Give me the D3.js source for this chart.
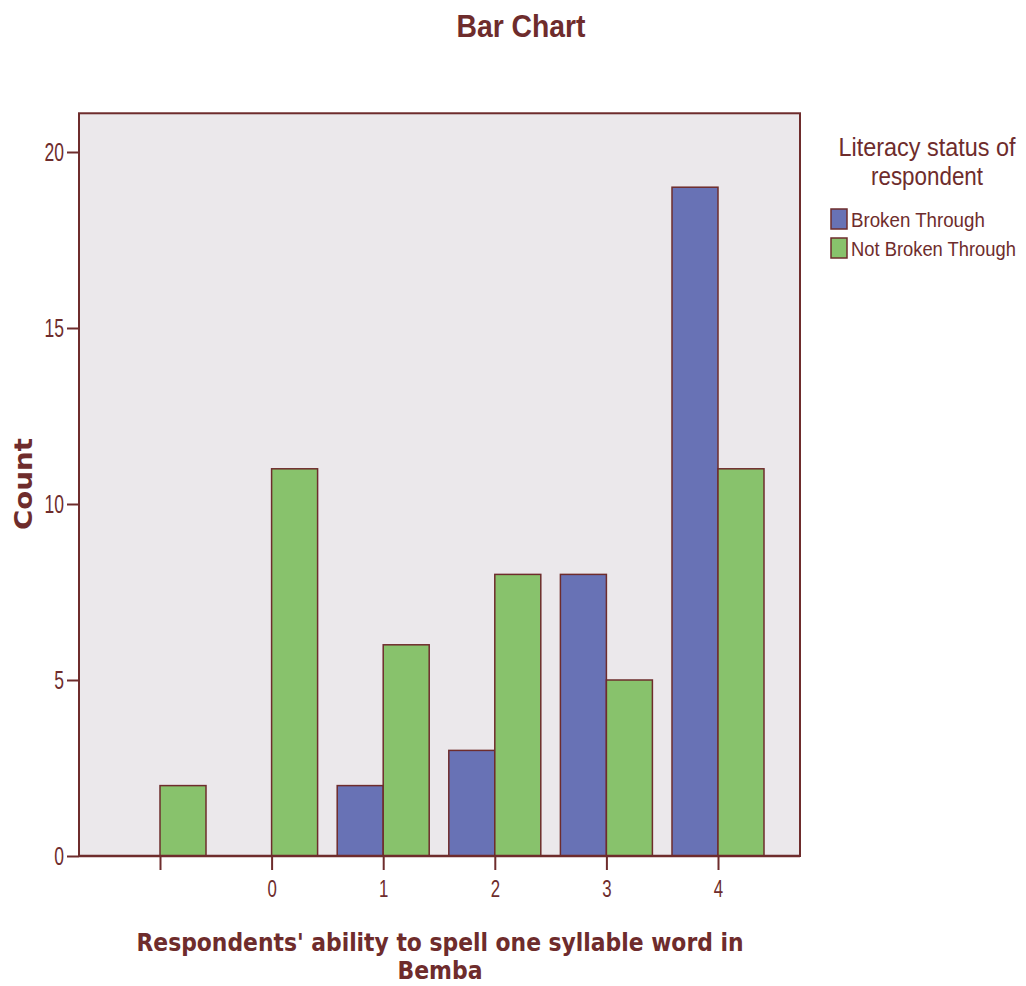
<!DOCTYPE html>
<html><head><meta charset="utf-8">
<script src="https://cdn.jsdelivr.net/npm/d3@7"></script>
<style>body{margin:0;background:#fff}</style>
</head><body>
<script>
const categories = ["", "0", "1", "2", "3", "4"];
const seriesNames = ["Broken Through", "Not Broken Through"];
const brokenThrough = [0, 0, 2, 3, 8, 19];
const notBrokenThrough = [2, 11, 6, 8, 5, 11];
const yTicks = [0, 5, 10, 15, 20];
const colors = ["#6872b5", "#88c26c"];
const ink = "#6e2c2c";
const sans = "'Liberation Sans',Arial,sans-serif";
const cond = "'DejaVu Sans Condensed','DejaVu Sans',sans-serif";

function squeeze(sel, f) {
  sel.each(function() {
    const w = this.getComputedTextLength();
    d3.select(this).attr("textLength", w * f).attr("lengthAdjust", "spacingAndGlyphs");
  });
}
function fit(sel, w) { sel.attr("textLength", w).attr("lengthAdjust", "spacingAndGlyphs"); }

const svg = d3.select("body").append("svg").attr("width", 1026).attr("height", 986);

const plotL = 79, plotR = 800, plotB = 856;
const y = d3.scaleLinear().domain([0, 20]).range([plotB, 152]);
const plotT = y(21.1);
const x0 = d3.scalePoint().domain(categories).range([160, 718]);
const x1 = d3.scaleBand().domain(seriesNames).range([-46, 46]);

svg.append("rect").attr("x", plotL).attr("y", plotT).attr("width", plotR - plotL).attr("height", plotB - plotT)
  .attr("fill", "#ebe8eb").attr("stroke", ink).attr("stroke-width", 2);

const series = [brokenThrough, notBrokenThrough];
series.forEach((vals, si) => {
  svg.append("g").selectAll("rect").data(categories.map((c, i) => ({c, v: vals[i]})).filter(d => d.v > 0))
    .join("rect")
    .attr("x", d => x0(d.c) + x1(seriesNames[si]))
    .attr("y", d => y(d.v))
    .attr("width", x1.bandwidth())
    .attr("height", d => plotB - y(d.v))
    .attr("fill", colors[si]).attr("stroke", ink).attr("stroke-width", 1.5);
});

// y axis
const ya = svg.append("g").attr("transform", `translate(${plotL},0)`)
  .call(d3.axisLeft(y).tickValues(yTicks).tickSize(12).tickPadding(3));
ya.select(".domain").remove();
ya.selectAll("line").attr("stroke", ink).attr("stroke-width", 2);
ya.selectAll("text").attr("fill", ink).style("font-family", sans).style("font-size", "25px");
squeeze(ya.selectAll("text"), 0.7);

// x axis
const xa = svg.append("g").attr("transform", `translate(0,${plotB})`)
  .call(d3.axisBottom(x0).tickSize(14).tickPadding(10));
xa.select(".domain").remove();
xa.selectAll("line").attr("stroke", ink).attr("stroke-width", 2);
xa.selectAll("text").attr("fill", ink).style("font-family", sans).style("font-size", "24px");
squeeze(xa.selectAll("text").filter(function(){ return this.textContent !== ""; }), 0.7);
svg.append("line").attr("x1", plotL).attr("x2", plotR).attr("y1", plotB).attr("y2", plotB).attr("stroke", ink).attr("stroke-width", 2.5);

// titles
fit(svg.append("text").attr("x", 521).attr("y", 37).attr("text-anchor", "middle")
  .style("font-family", sans).style("font-weight", "bold").style("font-size", "31px").attr("fill", ink).text("Bar Chart"), 129);

fit(svg.append("text").attr("transform", "translate(32,484) rotate(-90)").attr("text-anchor", "middle")
  .style("font-family", cond).style("font-weight", "bold").style("font-size", "24px").attr("fill", ink).text("Count"), 92);

fit(svg.append("text").attr("x", 440).attr("y", 951).attr("text-anchor", "middle").style("font-family", cond)
  .style("font-weight", "bold").style("font-size", "24px").attr("fill", ink)
  .text("Respondents' ability to spell one syllable word in"), 607);
fit(svg.append("text").attr("x", 440).attr("y", 979).attr("text-anchor", "middle").style("font-family", cond)
  .style("font-weight", "bold").style("font-size", "24px").attr("fill", ink).text("Bemba"), 85);

// legend
fit(svg.append("text").attr("x", 927).attr("y", 156).attr("text-anchor", "middle").style("font-family", sans)
  .style("font-size", "25px").attr("fill", ink).text("Literacy status of"), 177);
fit(svg.append("text").attr("x", 927).attr("y", 185).attr("text-anchor", "middle").style("font-family", sans)
  .style("font-size", "25px").attr("fill", ink).text("respondent"), 112);

const legW = [134, 165];
seriesNames.forEach((s, i) => {
  const yy = 209 + i * 29;
  svg.append("rect").attr("x", 831).attr("y", yy).attr("width", 16).attr("height", 20)
    .attr("fill", colors[i]).attr("stroke", ink).attr("stroke-width", 1.5);
  const g = svg.append("g");
  const t = g.append("text").attr("x", 0).attr("y", 0).style("font-family", sans).style("font-size", "21px")
    .attr("fill", ink).text(s);
  const sx = legW[i] / t.node().getComputedTextLength();
  g.attr("transform", `translate(851,${yy + 18}) scale(${sx},1)`);
});
</script>
</body></html>
